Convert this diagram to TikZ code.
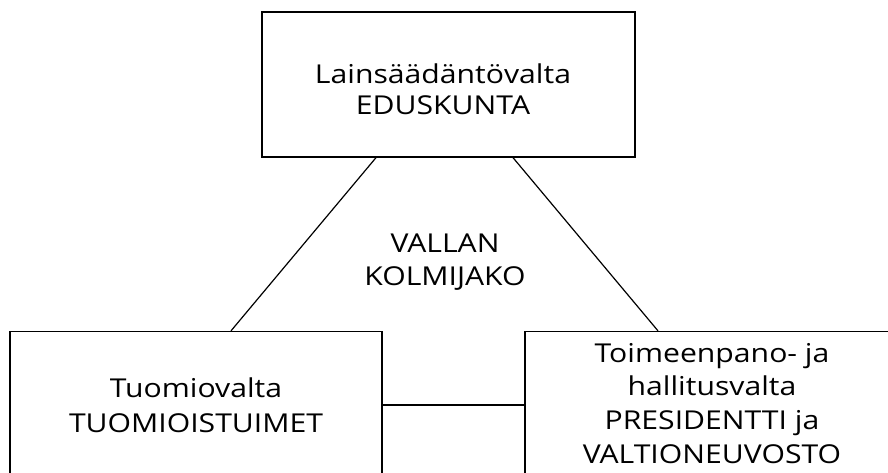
\documentclass[tikz,border=0pt]{standalone}
\usepackage{fontspec}
\setmainfont{Open Sans}[FakeStretch=1.16]
\begin{document}
\begin{tikzpicture}[x=1pt,y=-1pt,
  box/.style={draw=black, line width=1.3pt, rectangle, inner sep=0pt},
  txt/.style={font=\fontsize{26}{33}\selectfont, align=center, inner sep=0pt, text=black},
  conn/.style={draw=black, line width=1.2pt}]
\useasboundingbox (0,0) rectangle (888,473);
\clip (0,0) rectangle (888,473);
% boxes
\node[box, minimum width=373pt, minimum height=145pt] (top) at (448.5,84.5) {};
\node[box, minimum width=372pt, minimum height=158.5pt] (left) at (196,410.75) {};
\node[box, minimum width=375pt, minimum height=158.5pt] (right) at (712.5,410.75) {};
% texts (base anchor = baseline of the last line)
\node[txt, anchor=base, font=\fontsize{26}{31}\selectfont] (toptxt) at (443,115) {Lainsäädäntövalta\\EDUSKUNTA};
\node[txt, anchor=base] (midtxt) at (445,285) {VALLAN\\KOLMIJAKO};
\node[txt, anchor=base, font=\fontsize{26}{34.5}\selectfont] (lefttxt) at (196,432) {Tuomiovalta\\TUOMIOISTUIMET};
\node[txt, anchor=base, font=\fontsize{26}{33.6}\selectfont] (righttxt) at (712,463) {Toimeenpano- ja\\hallitusvalta\\PRESIDENTTI ja\\VALTIONEUVOSTO};
% connectors
\draw[conn] ([xshift=-72.5pt]top.south) -- ([xshift=35pt]left.north);
\draw[conn] ([xshift=64.5pt]top.south) -- ([xshift=-54.5pt]right.north);
\draw[conn] ([yshift=5.75pt]left.east) -- ([yshift=5.75pt]right.west);
\end{tikzpicture}
\end{document}
